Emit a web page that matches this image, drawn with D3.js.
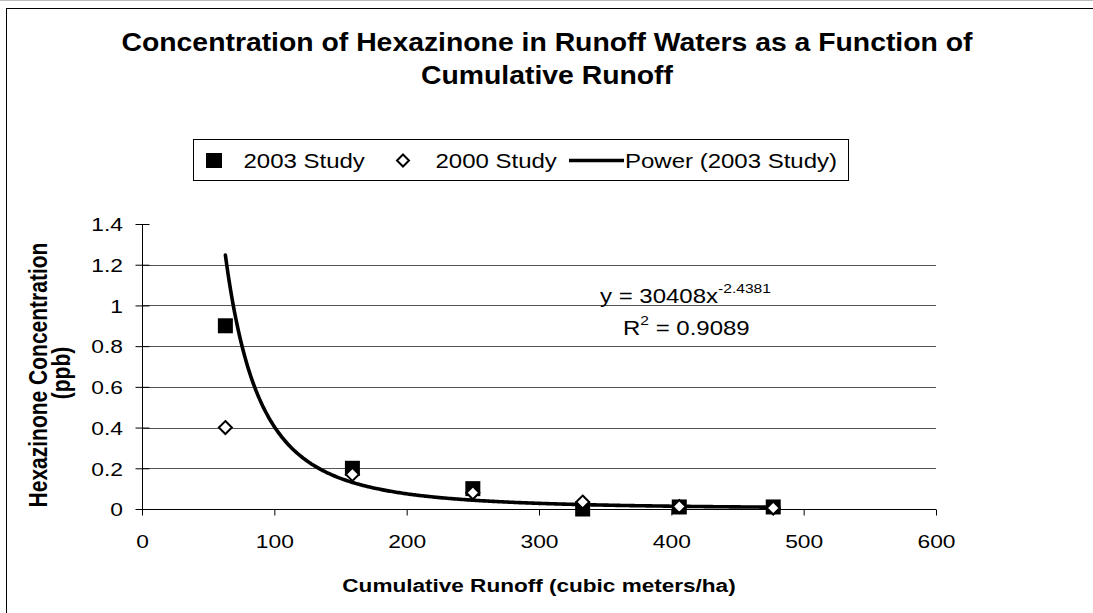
<!DOCTYPE html>
<html><head><meta charset="utf-8">
<script src="https://cdn.jsdelivr.net/npm/d3@7"></script>
<style>body{margin:0;background:#fff}svg{display:block}text{font-family:"Liberation Sans",Arial,sans-serif;fill:#000}</style>
</head><body>
<svg id="c" width="1093" height="613"></svg>
<script>
const study2003X = [63, 159, 250, 333, 406, 477];
const study2003Y = [0.9, 0.2, 0.1, 0.0, 0.01, 0.01];
const study2000X = [63, 159, 250, 333, 406, 477];
const study2000Y = [0.4, 0.17, 0.08, 0.034, 0.012, 0.005];
const powerCoef = 30408, powerExp = -2.4381;
const xTicks = [0, 100, 200, 300, 400, 500, 600];
const yTicks = [0, 0.2, 0.4, 0.6, 0.8, 1, 1.2, 1.4];
const titleLines = ["Concentration of Hexazinone in Runoff Waters as a Function of", "Cumulative Runoff"];
const legendLabels = ["2003 Study", "2000 Study", "Power (2003 Study)"];

const K = 1.2; // horizontal text stretch seen in the reference
const svg = d3.select("#c");
svg.append("line").attr("x1",0).attr("x2",1093).attr("y1",0.5).attr("y2",0.5).attr("stroke","#bbb");
svg.append("rect").attr("x",6.5).attr("y",8.5).attr("width",1100).attr("height",620).attr("fill","none").attr("stroke","#000").attr("stroke-width",1);

function stext(g, x, yy, size, str, opts={}) {
  const t = g.append("text").attr("transform",`translate(${x},${yy}) scale(${opts.k||K},1)${opts.rot?` rotate(${opts.rot})`:""}`)
    .attr("font-size",size).attr("text-anchor",opts.anchor||"start");
  if (opts.bold) t.attr("font-weight","bold");
  if (str!==null) t.text(str);
  return t;
}

const L=142, R=936, T=224, B=509;
const x = d3.scaleLinear().domain([0,600]).range([L,R]);
const y = d3.scaleLinear().domain([0,1.4]).range([B,T]);

// title
stext(svg, 547, 51, 26.5, titleLines[0], {bold:true, anchor:"middle", k:1.07});
stext(svg, 547, 84, 26.5, titleLines[1], {bold:true, anchor:"middle", k:1.07});

// gridlines
svg.append("g").selectAll("line").data(yTicks.filter(d=>d>0 && d<1.4)).join("line")
  .attr("x1",L).attr("x2",R).attr("y1",d=>Math.round(y(d))+0.5).attr("y2",d=>Math.round(y(d))+0.5)
  .attr("stroke","#555").attr("stroke-width",1);

// axes
const xAxis = d3.axisBottom(x).tickValues(xTicks).tickSize(6).tickFormat(d3.format("d"));
const gx = svg.append("g").attr("transform",`translate(0,${B+0.5})`).call(xAxis);
gx.select(".domain").attr("d",`M${L},0H${R}`);
gx.selectAll(".tick text").attr("y",0).attr("dy",0).attr("font-size",19)
  .attr("transform",`translate(0,38) scale(${K},1)`);
const yAxis = d3.axisLeft(y).tickValues(yTicks).tickSize(7).tickFormat(d=>String(d));
const gy = svg.append("g").attr("transform",`translate(${L+0.5},0)`).call(yAxis);
gy.select(".domain").attr("d",`M0,${T}V${B}`);
gy.selectAll(".tick line").attr("x1",7);
gy.selectAll(".tick text").attr("x",0).attr("dy","0.36em").attr("font-size",19)
  .attr("transform",`translate(-19.5,0) scale(${K},1)`);
svg.selectAll(".tick line").attr("stroke","#000");
svg.selectAll(".domain").attr("stroke","#000");
svg.selectAll(".tick text").attr("font-family",null).style("font-family","'Liberation Sans', Arial, sans-serif");

// axis labels
stext(svg, 539, 592, 18.8, "Cumulative Runoff (cubic meters/ha)", {bold:true, anchor:"middle"});
stext(svg, 47, 375, 21, "Hexazinone Concentration", {bold:true, anchor:"middle", rot:-90});
stext(svg, 70, 373, 21, "(ppb)", {bold:true, anchor:"middle", rot:-90});

// power curve
const xs = d3.range(d3.min(study2003X), d3.max(study2003X)+5, 1);
const line = d3.line().x(d=>x(d)).y(d=>y(powerCoef*Math.pow(d,powerExp)));
svg.append("path").datum(xs).attr("d",line).attr("fill","none").attr("stroke","#000").attr("stroke-width",3.6).attr("stroke-linecap","round");

// 2003 squares
svg.append("g").selectAll("rect").data(study2003X.map((d,i)=>[d,study2003Y[i]])).join("rect")
  .attr("x",d=>x(d[0])-7.5).attr("y",d=>y(d[1])-7.5).attr("width",15).attr("height",15).attr("fill","#000");
// 2000 diamonds
svg.append("g").selectAll("path").data(study2000X.map((d,i)=>[d,study2000Y[i]])).join("path")
  .attr("transform",d=>`translate(${x(d[0])},${y(d[1])})`).attr("d","M0,-6.5L6.5,0L0,6.5L-6.5,0Z")
  .attr("fill","#fff").attr("stroke","#000").attr("stroke-width",2);

// equation
const eq = stext(svg, 600, 303, 20, null);
eq.append("tspan").text("y = 30408x");
eq.append("tspan").attr("dy",-10).attr("font-size",13).text("-2.4381");
const r2 = stext(svg, 623, 335, 20, null);
r2.append("tspan").text("R");
r2.append("tspan").attr("dy",-10).attr("font-size",13).text("2");
r2.append("tspan").attr("dy",10).text(" = 0.9089");

// legend
const lg = svg.append("g");
lg.append("rect").attr("x",193.5).attr("y",139.5).attr("width",655).attr("height",41).attr("fill","#fff").attr("stroke","#000").attr("stroke-width",1);
lg.append("rect").attr("x",206).attr("y",153).attr("width",16).attr("height",15).attr("fill","#000");
stext(lg, 243.5, 168, 20, legendLabels[0]);
lg.append("path").attr("transform","translate(403,160.5)").attr("d","M0,-6L6,0L0,6L-6,0Z").attr("fill","#fff").attr("stroke","#000").attr("stroke-width",2);
stext(lg, 435.5, 168, 20, legendLabels[1]);
lg.append("line").attr("x1",569).attr("x2",624).attr("y1",160.5).attr("y2",160.5).attr("stroke","#000").attr("stroke-width",3.6);
stext(lg, 625, 168, 20, legendLabels[2]);
</script>
</body></html>
